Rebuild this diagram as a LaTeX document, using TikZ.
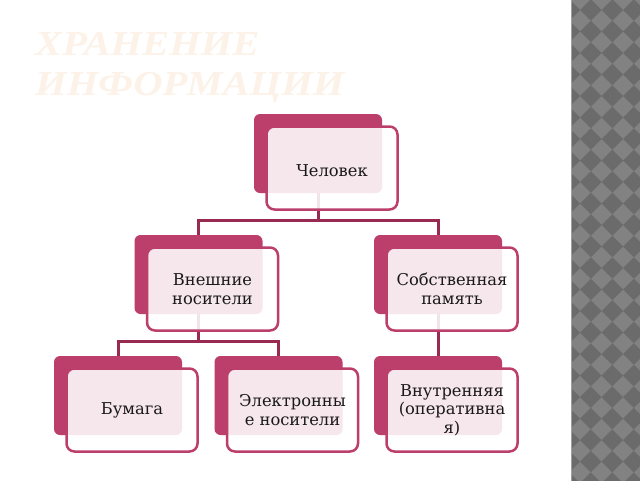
\documentclass[tikz,border=0pt]{standalone}
\usepackage{fontspec}
\setmainfont{DejaVu Serif}
\newfontfamily\titlefont[FakeStretch=1.16]{Liberation Serif}
\usetikzlibrary{backgrounds}
\definecolor{crim}{RGB}{188,62,106}
\definecolor{conn}{RGB}{152,42,82}
\definecolor{titlec}{RGB}{252,242,232}
\definecolor{stripl}{RGB}{130,130,130}
\definecolor{stripd}{RGB}{107,107,107}
\definecolor{txt}{RGB}{25,25,25}
\begin{document}
\begin{tikzpicture}[x=1pt,y=-1pt,
  backbox/.style={fill=crim, rounded corners=6pt, minimum width=128pt, minimum height=79pt, inner sep=0pt},
  frontbox/.style={draw=crim, line width=2.5pt, fill=white, fill opacity=0.88, text opacity=1,
    rounded corners=8pt, minimum width=131pt, minimum height=83pt, align=center,
    font=\fontsize{16.3}{18.5}\selectfont, text=txt, inner sep=0pt},
  link/.style={draw=conn, line width=3pt},
  titletext/.style={anchor=base west, text=titlec, inner sep=0pt,
    font=\titlefont\bfseries\itshape\fontsize{35}{40}\selectfont}]
\useasboundingbox (0,0) rectangle (640,480);
\begin{pgfonlayer}{background}
\fill[white] (-5,-5) rectangle (645,485);
\end{pgfonlayer}
% patterned strip
\begin{scope}
  \clip (571,-5) rectangle (645,485);
  \fill[stripl] (571,-5) rectangle (645,485);
  \foreach \i in {0,...,4} {
    \foreach \j in {-1,...,23} {
      \fill[stripd] ({558.5+\i*21.5},{10+\j*21.5}) -- ++(10.75,-10.75) -- ++(10.75,10.75) -- ++(-10.75,10.75) -- cycle;
    }
  }
\end{scope}
\fill[gray!75] (570.5,-5) rectangle (571.5,485);
% title
\node[titletext] (t1) at (35,55) {ХРАНЕНИЕ};
\node[titletext] (t2) at (35,95) {ИНФОРМАЦИИ};
% boxes
\node[backbox] (b1) at (318,153.5) {};
\node[frontbox, text height=16pt, text depth=0pt] (f1) at (332,168) {Человек};
\node[backbox] (b2) at (198.5,274.5) {};
\node[frontbox] (f2) at (212.5,289) {Внешние\\носители};
\node[backbox] (b3) at (438,274.5) {};
\node[frontbox] (f3) at (452,289) {Собственная\\память};
\node[backbox] (b4) at (118,395.5) {};
\node[frontbox] (f4) at (132,410) {Бумага};
\node[backbox] (b5) at (278.5,395.5) {};
\node[frontbox] (f5) at (292.5,410) {Электронны\\е носители};
\node[backbox] (b6) at (438,395.5) {};
\node[frontbox] (f6) at (452,410) {Внутренняя\\(оперативна\\я)};
% connectors
\begin{pgfonlayer}{background}
  \path (b1.south) ++(0,27) coordinate (j1);
  \path (b2.south) ++(0,27) coordinate (j2);
  \draw[link] (b1.south) -- (j1) -| (b2.north);
  \draw[link] (j1) -| (b3.north);
  \draw[link] (b2.south) -- (j2) -| (b4.north);
  \draw[link] (j2) -| (b5.north);
  \draw[link] (b3.south) -- (b6.north);
\end{pgfonlayer}
\end{tikzpicture}
\end{document}
